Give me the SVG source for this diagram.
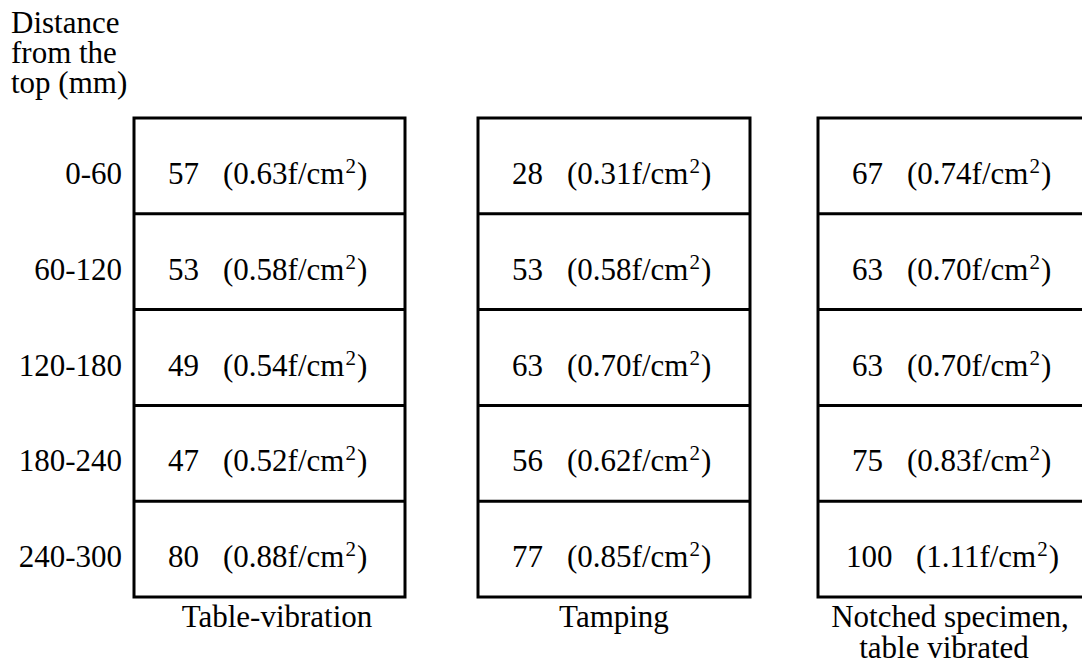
<svg xmlns="http://www.w3.org/2000/svg" width="1082" height="668" viewBox="0 0 1082 668">
  <style>
    .t { font-family: "Liberation Serif", "Times New Roman", serif; font-size: 31px; fill: #000; }
    .sup { font-size: 21px; }
    .box { fill: none; stroke: #000; stroke-width: 3; }
    .div { stroke: #000; stroke-width: 3; }
  </style>
  <rect width="1082" height="668" fill="#fff"/>

  <!-- axis heading, three lines in one text block -->
  <g id="heading">
    <text class="t" x="11" y="33">Distance<tspan x="11" dy="30">from the</tspan><tspan x="11" dy="30">top (mm)</tspan></text>
  </g>

  <!-- depth labels -->
  <g id="depths" class="t" text-anchor="end">
    <text x="122" y="184">0-60</text>
    <text x="122" y="280">60-120</text>
    <text x="122" y="376">120-180</text>
    <text x="122" y="471">180-240</text>
    <text x="122" y="567">240-300</text>
  </g>

  <!-- column 1: table vibration -->
  <g id="col-table-vibration">
    <rect class="box" x="134" y="118" width="271" height="479"/>
    <line class="div" x1="134" y1="213.8" x2="405" y2="213.8"/>
    <line class="div" x1="134" y1="309.6" x2="405" y2="309.6"/>
    <line class="div" x1="134" y1="405.4" x2="405" y2="405.4"/>
    <line class="div" x1="134" y1="501.2" x2="405" y2="501.2"/>
    <text class="t" x="168" y="184">57<tspan x="223">(0.63f/cm</tspan><tspan class="sup" dx="1" dy="-11">2</tspan><tspan dx="1" dy="11">)</tspan></text>
    <text class="t" x="168" y="280">53<tspan x="223">(0.58f/cm</tspan><tspan class="sup" dx="1" dy="-11">2</tspan><tspan dx="1" dy="11">)</tspan></text>
    <text class="t" x="168" y="376">49<tspan x="223">(0.54f/cm</tspan><tspan class="sup" dx="1" dy="-11">2</tspan><tspan dx="1" dy="11">)</tspan></text>
    <text class="t" x="168" y="471">47<tspan x="223">(0.52f/cm</tspan><tspan class="sup" dx="1" dy="-11">2</tspan><tspan dx="1" dy="11">)</tspan></text>
    <text class="t" x="168" y="567">80<tspan x="223">(0.88f/cm</tspan><tspan class="sup" dx="1" dy="-11">2</tspan><tspan dx="1" dy="11">)</tspan></text>
    <text class="t" x="277" y="627" text-anchor="middle">Table-vibration</text>
  </g>

  <!-- column 2: tamping -->
  <g id="col-tamping">
    <rect class="box" x="478" y="118" width="272" height="479"/>
    <line class="div" x1="478" y1="213.8" x2="750" y2="213.8"/>
    <line class="div" x1="478" y1="309.6" x2="750" y2="309.6"/>
    <line class="div" x1="478" y1="405.4" x2="750" y2="405.4"/>
    <line class="div" x1="478" y1="501.2" x2="750" y2="501.2"/>
    <text class="t" x="512" y="184">28<tspan x="567">(0.31f/cm</tspan><tspan class="sup" dx="1" dy="-11">2</tspan><tspan dx="1" dy="11">)</tspan></text>
    <text class="t" x="512" y="280">53<tspan x="567">(0.58f/cm</tspan><tspan class="sup" dx="1" dy="-11">2</tspan><tspan dx="1" dy="11">)</tspan></text>
    <text class="t" x="512" y="376">63<tspan x="567">(0.70f/cm</tspan><tspan class="sup" dx="1" dy="-11">2</tspan><tspan dx="1" dy="11">)</tspan></text>
    <text class="t" x="512" y="471">56<tspan x="567">(0.62f/cm</tspan><tspan class="sup" dx="1" dy="-11">2</tspan><tspan dx="1" dy="11">)</tspan></text>
    <text class="t" x="512" y="567">77<tspan x="567">(0.85f/cm</tspan><tspan class="sup" dx="1" dy="-11">2</tspan><tspan dx="1" dy="11">)</tspan></text>
    <text class="t" x="614" y="627" text-anchor="middle">Tamping</text>
  </g>

  <!-- column 3: notched specimen (box runs past the right edge) -->
  <g id="col-notched">
    <rect class="box" x="818" y="118" width="272" height="479"/>
    <line class="div" x1="818" y1="213.8" x2="1090" y2="213.8"/>
    <line class="div" x1="818" y1="309.6" x2="1090" y2="309.6"/>
    <line class="div" x1="818" y1="405.4" x2="1090" y2="405.4"/>
    <line class="div" x1="818" y1="501.2" x2="1090" y2="501.2"/>
    <text class="t" x="852" y="184">67<tspan x="907">(0.74f/cm</tspan><tspan class="sup" dx="1" dy="-11">2</tspan><tspan dx="1" dy="11">)</tspan></text>
    <text class="t" x="852" y="280">63<tspan x="907">(0.70f/cm</tspan><tspan class="sup" dx="1" dy="-11">2</tspan><tspan dx="1" dy="11">)</tspan></text>
    <text class="t" x="852" y="376">63<tspan x="907">(0.70f/cm</tspan><tspan class="sup" dx="1" dy="-11">2</tspan><tspan dx="1" dy="11">)</tspan></text>
    <text class="t" x="852" y="471">75<tspan x="907">(0.83f/cm</tspan><tspan class="sup" dx="1" dy="-11">2</tspan><tspan dx="1" dy="11">)</tspan></text>
    <text class="t" x="846" y="567">100<tspan x="916">(1.11f/cm</tspan><tspan class="sup" dx="1" dy="-11">2</tspan><tspan dx="1" dy="11">)</tspan></text>
    <text class="t" x="950" y="627" text-anchor="middle">Notched specimen,<tspan x="944" dy="31">table vibrated</tspan></text>
  </g>
</svg>
